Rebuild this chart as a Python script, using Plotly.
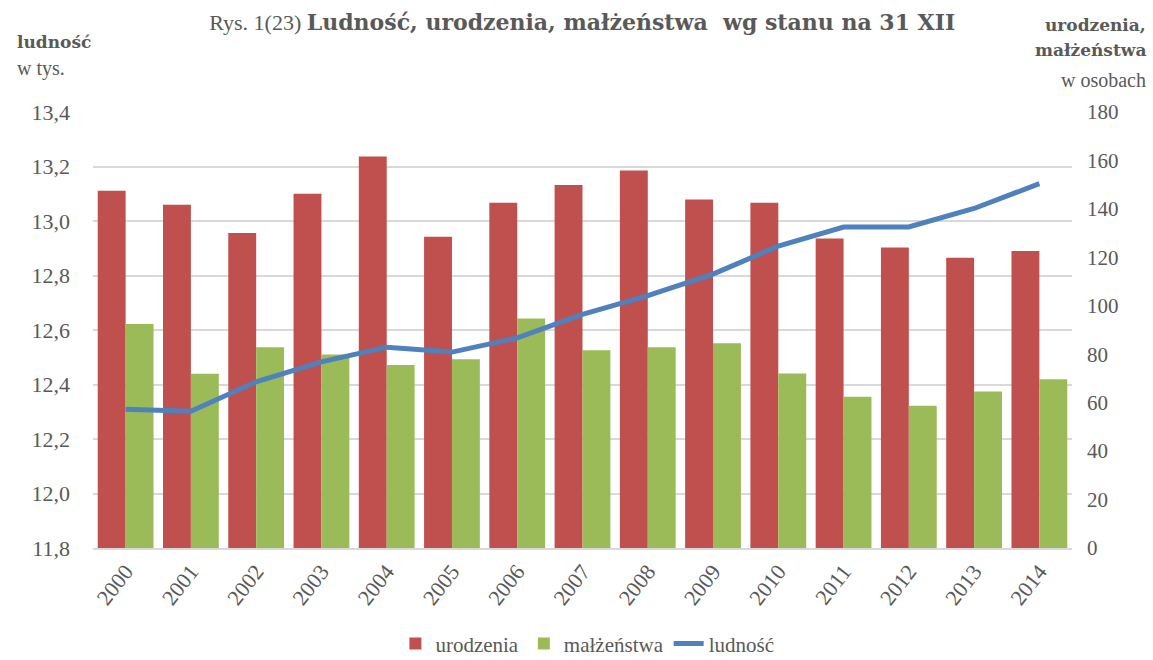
import plotly.graph_objects as go

years = [str(y) for y in range(2000, 2015)]
urodzenia = [147.5, 141.7, 130.0, 146.2, 161.6, 128.5, 142.5, 149.9, 155.8, 143.9, 142.5, 127.8, 124.1, 119.8, 122.6]
malzenstwa = [92.5, 71.9, 82.9, 79.9, 75.6, 77.9, 94.7, 81.6, 82.9, 84.5, 72.0, 62.4, 58.7, 64.6, 69.7]
ludnosc = [12.309, 12.302, 12.41, 12.483, 12.537, 12.519, 12.571, 12.657, 12.726, 12.805, 12.908, 12.978, 12.978, 13.046, 13.137]
left_ticks = [11.8, 12.0, 12.2, 12.4, 12.6, 12.8, 13.0, 13.2, 13.4]
left_labels = ["11,8", "12,0", "12,2", "12,4", "12,6", "12,8", "13,0", "13,2", "13,4"]
right_ticks = [0, 20, 40, 60, 80, 100, 120, 140, 160, 180]
series_names = ["urodzenia", "małżeństwa", "ludność"]

FONT = "Liberation Serif"
GREY = "#595959"

def f(size, family=FONT):
    return dict(family=family, size=size, color=GREY)

def serif(t):
    return "<span style=\"font-family:'Liberation Serif'\">" + str(t) + "</span>"

fig = go.Figure()
fig.add_trace(go.Bar(x=years, y=urodzenia, name=serif(series_names[0]), marker_color="#C0504D",
                     marker_line_width=0, yaxis="y"))
fig.add_trace(go.Bar(x=years, y=malzenstwa, name=serif(series_names[1]), marker_color="#9BBB59",
                     marker_line_width=0, yaxis="y"))
fig.add_trace(go.Scatter(x=years, y=ludnosc, name=serif(series_names[2]), mode="lines",
                         line=dict(color="#4F81BD", width=5), yaxis="y2"))

fig.update_layout(
    template="none",
    width=1153, height=660,
    paper_bgcolor="white", plot_bgcolor="white",
    margin=dict(l=93, r=81, t=112, b=112, autoexpand=False),
    font=f(20),
    barmode="group", bargap=0.145, bargroupgap=0,
    title=dict(text="Rys. 1(23) <b><span style=\"font-family:'DejaVu Serif'\">Ludność, urodzenia, małżeństwa  wg stanu na 31 XII</span></b>",
               x=0.505, xanchor="center", y=0.9667, yanchor="middle",
               font=f(22)),
    xaxis=dict(type="category", tickangle=-52, showgrid=False, showline=True,
               linecolor="#D9D9D9", linewidth=2, ticks="", tickfont=f(22),
               tickvals=years, ticktext=[serif(y) for y in years],
               automargin=False),
    yaxis=dict(side="right", range=[0, 180], tickvals=right_ticks,
               ticktext=[serif(v) for v in right_ticks], showgrid=False, zeroline=False,
               ticks="", ticklabelstandoff=14, tickfont=f(21), automargin=False),
    yaxis2=dict(side="left", overlaying="y", range=[11.8, 13.4], tickvals=left_ticks,
                ticktext=[serif(v) for v in left_labels],
                showgrid=True, gridcolor="#D9D9D9", gridwidth=2, zeroline=False,
                ticks="", ticklabelstandoff=22, tickfont=f(22), automargin=False),
    legend=dict(orientation="h", x=0.505, xanchor="center", y=-0.22, yanchor="middle",
                font=f(21), traceorder="normal"),
    showlegend=True,
)

fig.add_annotation(text="<b>ludność</b>", xref="paper", yref="paper", x=-0.0797, y=1.1606,
                   xanchor="left", yanchor="middle", showarrow=False, font=f(17, "DejaVu Serif"))
fig.add_annotation(text="w tys.", xref="paper", yref="paper", x=-0.0797, y=1.1009,
                   xanchor="left", yanchor="middle", showarrow=False, font=f(20))
fig.add_annotation(text="<b>urodzenia,</b>", xref="paper", yref="paper", x=1.0776, y=1.1995,
                   xanchor="right", yanchor="middle", showarrow=False, font=f(17, "DejaVu Serif"))
fig.add_annotation(text="<b>małżeństwa</b>", xref="paper", yref="paper", x=1.0776, y=1.142,
                   xanchor="right", yanchor="middle", showarrow=False, font=f(17, "DejaVu Serif"))
fig.add_annotation(text="w osobach", xref="paper", yref="paper", x=1.0776, y=1.073,
                   xanchor="right", yanchor="middle", showarrow=False, font=f(20))

fig.write_html("out.html", config={"displayModeBar": False},
               post_script="document.body.style.margin='0';document.body.style.overflow='hidden';")
